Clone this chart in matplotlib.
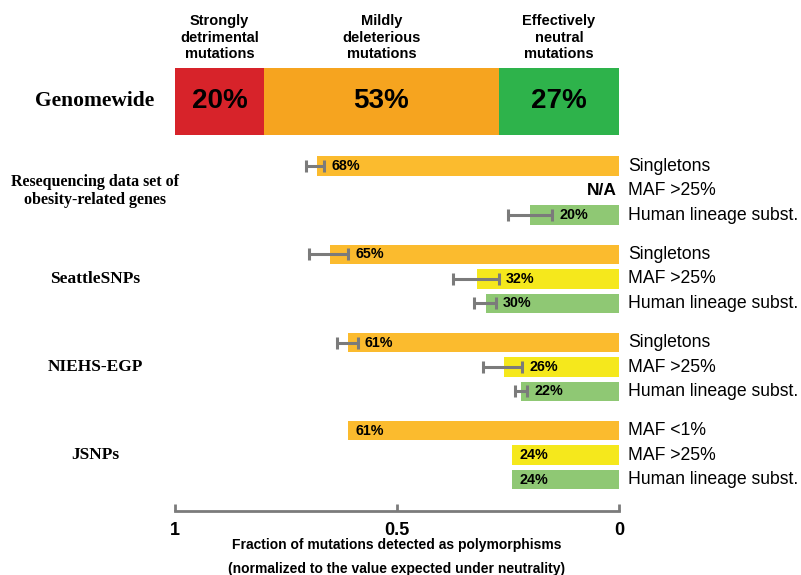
import numpy as np
import matplotlib.pyplot as plt

plt.rcParams['font.family'] = ['Liberation Sans', 'DejaVu Sans']

# genome-wide split of new amino-acid mutations
classes = ['Strongly\ndetrimental\nmutations', 'Mildly\ndeleterious\nmutations',
           'Effectively\nneutral\nmutations']
class_frac = [0.20, 0.53, 0.27]
class_colors = ['#d7232a', '#f6a41f', '#2eb34b']

# data sets and their three rows each
datasets = ['Resequencing data set of\nobesity-related genes', 'SeattleSNPs', 'NIEHS-EGP', 'JSNPs']
row_names = [['Singletons', 'MAF >25%', 'Human lineage subst.'],
             ['Singletons', 'MAF >25%', 'Human lineage subst.'],
             ['Singletons', 'MAF >25%', 'Human lineage subst.'],
             ['MAF <1%', 'MAF >25%', 'Human lineage subst.']]
values = [[0.68, None, 0.20],
          [0.65, 0.32, 0.30],
          [0.61, 0.26, 0.22],
          [0.61, 0.24, 0.24]]
# confidence range (low, high) drawn as whiskers
err_low = [[0.664, None, 0.15],
           [0.61, 0.27, 0.277],
           [0.588, 0.218, 0.207],
           [None, None, None]]
err_high = [[0.705, None, 0.25],
            [0.698, 0.374, 0.327],
            [0.635, 0.306, 0.234],
            [None, None, None]]
row_colors = ['#fbbb2e', '#f5e81c', '#8fc874']

ticks = [1, 0.5, 0]
tick_labels = ['1', '0.5', '0']
xlab = 'Fraction of mutations detected as polymorphisms\n(normalized to the value expected under neutrality)'

grey = '#7b7b7b'
group_step = 3.6
top_y = -2.65

fig = plt.figure(figsize=(8.01, 5.75), dpi=100)
ax = fig.add_axes([175 / 801, 0, 444 / 801, 1])
ax.set_xlim(1, 0)
ax.set_ylim(16.69, -6.78)

# genome-wide stacked bar, filled from 1 down to 0
left = 1.0
for frac, col, name in zip(class_frac, class_colors, classes):
    ax.barh(top_y, -frac, left=left, height=2.73, color=col, linewidth=0)
    mid = left - frac / 2
    ax.text(mid, top_y, '%d%%' % round(frac * 100), ha='center', va='center',
            fontsize=20, fontweight='bold')
    ax.annotate(name, xy=(mid, top_y - 2.73 / 2), xytext=(0, 7), textcoords='offset pixels',
                ha='center', va='bottom', fontsize=10.5, fontweight='bold', linespacing=1.2)
    left -= frac
ax.annotate('Genomewide', xy=(1, top_y), xytext=(-80, 0), textcoords='offset pixels',
            ha='center', va='center', fontsize=15.5, fontweight='bold', family='Liberation Serif')

for g in range(len(datasets)):
    for k in range(3):
        y = g * group_step + k
        v = values[g][k]
        ax.annotate(row_names[g][k], xy=(0, y), xytext=(9, 0), textcoords='offset pixels',
                    ha='left', va='center', fontsize=12.7)
        if v is None:
            ax.annotate('N/A', xy=(0, y), xytext=(-2, 0), textcoords='offset pixels',
                        ha='right', va='center', fontsize=12.5, fontweight='bold')
            continue
        ax.barh(y, v, left=0, height=0.8, color=row_colors[k], linewidth=0)
        anchor = v
        lo, hi = err_low[g][k], err_high[g][k]
        if lo is not None:
            ax.errorbar(v, y, xerr=[[v - lo], [hi - v]], fmt='none', ecolor=grey,
                        elinewidth=2.2, capsize=4.3, capthick=2.2, zorder=3)
            anchor = min(v, lo)
        ax.annotate('%d%%' % round(v * 100), xy=(anchor, y), xytext=(7, 0),
                    textcoords='offset pixels', ha='left', va='center',
                    fontsize=10.3, fontweight='bold')
    ax.annotate(datasets[g], xy=(1, g * group_step + 1), xytext=(-80, 0),
                textcoords='offset pixels', ha='center', va='center',
                fontsize=12.5 if g else 11.5, fontweight='bold', family='Liberation Serif',
                linespacing=1.15)

# axis drawn as a single grey scale line
for s in ['top', 'right', 'left']:
    ax.spines[s].set_visible(False)
ax.spines['bottom'].set_position(('data', 14.08))
ax.spines['bottom'].set_bounds(0, 1)
ax.spines['bottom'].set_color(grey)
ax.spines['bottom'].set_linewidth(2)
ax.set_yticks([])
ax.set_xticks(ticks)
ax.set_xticklabels(tick_labels, fontsize=13, fontweight='bold')
ax.tick_params(axis='x', direction='in', length=5, width=2, color=grey, pad=8)
ax.set_xlabel(xlab, fontsize=10, fontweight='bold', linespacing=1.95, labelpad=-1)
ax.patch.set_alpha(0)

fig.savefig('out.png', dpi=100)
